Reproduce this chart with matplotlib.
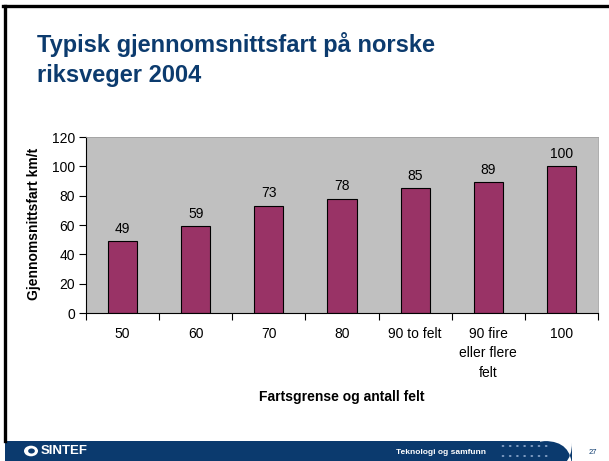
import matplotlib
matplotlib.use("Agg")
import matplotlib.pyplot as plt
from matplotlib.patches import FancyBboxPatch, Rectangle, Circle
from matplotlib.lines import Line2D

categories = ["50", "60", "70", "80", "90 to felt", "90 fire\neller flere\nfelt", "100"]
values = [49, 59, 73, 78, 85, 89, 100]
yticks = [0, 20, 40, 60, 80, 100, 120]

title_lines = ["Typisk gjennomsnittsfart på norske", "riksveger 2004"]
ylabel = "Gjennomsnittsfart km/t"
xlabel = "Fartsgrense og antall felt"

W, H = 609, 461
plt.rcParams['font.family'] = ['Liberation Sans', 'DejaVu Sans']
fig = plt.figure(figsize=(W / 100, H / 100), dpi=100)
fig.patch.set_facecolor("white")

def fx(x):
    return x / W

def fy(y):
    return 1 - y / H

# slide frame
fig.add_artist(Line2D([fx(4.5), fx(4.5)], [fy(6.5), fy(441)], color="black", lw=2.4))
fig.add_artist(Line2D([fx(3.3), fx(609)], [fy(6.5), fy(6.5)], color="black", lw=2.4))

# title
for line, yb in zip(title_lines, [52, 82]):
    fig.text(fx(37), fy(yb), line, ha="left", va="baseline", fontsize=17, fontweight="bold",
             color="#0C3B6E")

# axes
left, right, top, bottom = 86, 598, 137, 313
ax = fig.add_axes([fx(left), fy(bottom), (right - left) / W, (bottom - top) / H])
ax.set_facecolor("#C0C0C0")
x = list(range(len(categories)))
bars = ax.bar(x, values, width=0.4, color="#993366", edgecolor="black", linewidth=0.8, zorder=2)
for xi, v in zip(x, values):
    ax.annotate(str(v), (xi, v), xytext=(0, 4), textcoords="offset points",
                ha="center", va="bottom", fontsize=10)
ax.set_xlim(-0.5, len(categories) - 0.5)
ax.set_ylim(0, 120)
ax.set_yticks(yticks)
ax.set_yticklabels([str(t) for t in yticks], fontsize=10)
ax.set_xticks([i - 0.5 for i in range(len(categories) + 1)])
ax.set_xticklabels([])
ax.set_xticks(x, minor=True)
ax.set_xticklabels(categories, minor=True, fontsize=10, linespacing=1.5, va="top")
ax.tick_params(axis="x", which="minor", length=0, pad=10)
ax.tick_params(axis="x", which="major", length=5, width=0.8, direction="out")
ax.tick_params(axis="y", length=5, width=0.8, direction="out", pad=3)
for s in ["left", "bottom"]:
    ax.spines[s].set_color("black")
    ax.spines[s].set_linewidth(0.8)
for s in ["top", "right"]:
    ax.spines[s].set_color("#A0A0A0")
    ax.spines[s].set_linewidth(0.6)

fig.text(fx(34), fy((top + bottom) / 2 - 1), ylabel, rotation=90, ha="center", va="center",
         fontsize=10, fontweight="bold")
fig.text(fx(342), fy(397), xlabel, ha="center", va="center", fontsize=10, fontweight="bold")

# footer band
navy = "#0B3A6E"
fig.add_artist(Rectangle((fx(5), 0), fx(540) - fx(5), fy(441), transform=fig.transFigure,
                         facecolor=navy, edgecolor="none"))
fig.add_artist(FancyBboxPatch((fx(520), fy(470)), fx(52), fy(441) - fy(470),
                              boxstyle="round,pad=0,rounding_size=0.045",
                              transform=fig.transFigure, facecolor=navy, edgecolor="none",
                              mutation_aspect=W / H))
# logo
fig.add_artist(Circle((fx(31), fy(451)), 0.0115, transform=fig.transFigure,
                      facecolor="white", edgecolor="none"))
fig.add_artist(Circle((fx(31.5), fy(451)), 0.0055, transform=fig.transFigure,
                      facecolor=navy, edgecolor="none"))
fig.text(fx(41), fy(451), "SINTEF", ha="left", va="center", fontsize=9.5,
         fontweight="bold", color="white")
fig.text(fx(441), fy(452), "Teknologi og samfunn", ha="center", va="center",
         fontsize=6, fontweight="bold", color="white")
for row in [446, 456]:
    for k in range(7):
        fig.add_artist(Circle((fx(503 + k * 7.2), fy(row)), 0.0022, transform=fig.transFigure,
                              facecolor="#7F9CC2", edgecolor="none"))
fig.text(fx(593), fy(452), "27", ha="center", va="center", fontsize=5.5, color="#0B3A6E")

fig.savefig("out.png", dpi=100)
